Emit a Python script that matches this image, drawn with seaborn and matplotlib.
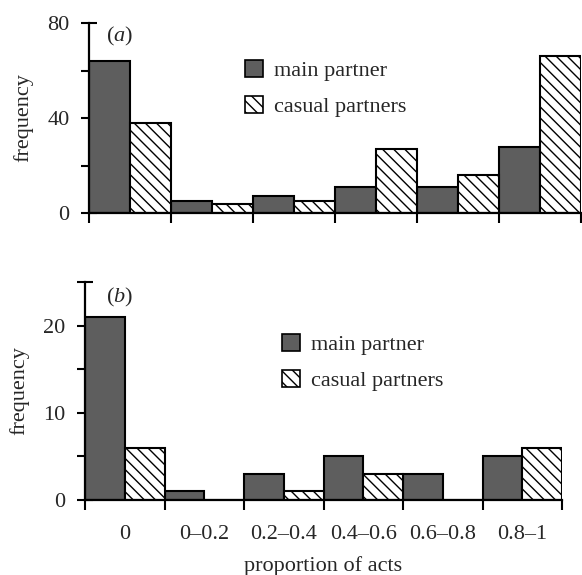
import matplotlib
matplotlib.use("Agg")
import matplotlib.pyplot as plt
import seaborn as sns
import pandas as pd
from matplotlib.patches import Patch

categories = ["0", "0\u20130.2", "0.2\u20130.4", "0.4\u20130.6", "0.6\u20130.8", "0.8\u20131"]
series = ["main partner", "casual partners"]
a_main = [64, 5, 7, 11, 11, 28]
a_casual = [38, 4, 5, 27, 16, 66]
b_main = [21, 1, 3, 5, 3, 5]
b_casual = [6, 0, 1, 3, 0, 6]

sns.set_theme(style="white")
plt.rcParams['font.family'] = ['Liberation Serif', 'DejaVu Serif']
plt.rcParams['mathtext.fontset'] = 'custom'
plt.rcParams['mathtext.rm'] = 'Liberation Serif'
plt.rcParams['mathtext.it'] = 'Liberation Serif:italic'
plt.rcParams['hatch.linewidth'] = 1.0

FS = 16
MAIN_COL = "#5e5e5e"
HATCH = "\\\\\\"


def make_df(main, casual):
    rows = []
    for c, m, k in zip(categories, main, casual):
        rows.append({"proportion": c, "partner": series[0], "frequency": m})
        rows.append({"proportion": c, "partner": series[1], "frequency": k})
    return pd.DataFrame(rows)


fig = plt.figure(figsize=(5.82, 5.75), dpi=100)
ax1 = fig.add_axes([89/582, 1-213/575, 492/582, 190/575])
ax2 = fig.add_axes([85/582, 1-500/575, 477/582, 218/575])


def draw(ax, main, casual, ymax, major, minor, show_xlabels, leg_anchor, tag, tag_y):
    df = make_df(main, casual)
    sns.barplot(data=df, x="proportion", y="frequency", hue="partner",
                order=categories, hue_order=series,
                palette=[MAIN_COL, "white"], width=1.0, gap=0,
                edgecolor="black", linewidth=1.5, saturation=1, ax=ax,
                legend=False)
    n = len(categories)
    for i, p in enumerate(ax.patches):
        if i >= n:
            p.set_hatch(HATCH)
    ax.set_xlim(-0.5, n - 0.5)
    ax.set_ylim(0, ymax)
    for s in ["top", "right"]:
        ax.spines[s].set_visible(False)
    for s in ["left", "bottom"]:
        ax.spines[s].set_linewidth(1.6)
        ax.spines[s].set_color("black")
    ax.set_yticks(major)
    ax.set_yticks(minor, minor=True)
    ax.tick_params(axis="y", which="both", direction="inout", length=12,
                   width=1.5, color="black", pad=8, labelsize=FS, left=True)
    ax.set_xticks([i - 0.5 for i in range(n + 1)])
    ax.set_xticklabels([])
    ax.set_xticks(range(n), minor=True)
    if show_xlabels:
        ax.set_xticklabels(categories, minor=True)
    ax.tick_params(axis="x", which="major", direction="out", length=7,
                   width=1.5, color="black", bottom=True)
    ax.tick_params(axis="x", which="minor", length=0, pad=18, labelsize=FS)
    ax.set_ylabel("frequency", fontsize=FS, labelpad=10)
    ax.set_xlabel("proportion of acts" if show_xlabels else "", fontsize=FS,
                  labelpad=9)
    handles = [Patch(facecolor=MAIN_COL, edgecolor="black", linewidth=1.2),
               Patch(facecolor="white", edgecolor="black", linewidth=1.2, hatch=HATCH)]
    ax.legend(handles, series, loc="upper left", bbox_to_anchor=leg_anchor,
              bbox_transform=fig.transFigure, frameon=False, fontsize=FS,
              borderpad=0, borderaxespad=0, handlelength=0.8, handleheight=0.8,
              handletextpad=0.5, labelspacing=0.65)
    fig.text(106/582, tag_y, tag, fontsize=FS, ha="left", va="center")


draw(ax1, a_main, a_casual, 80, [0, 40, 80], [20, 60], False,
     (245/582, 1-60/575), r"($\mathit{a}$)", 1-36/575)
draw(ax2, b_main, b_casual, 25, [0, 10, 20], [5, 15, 25], True,
     (282/582, 1-334/575), r"($\mathit{b}$)", 1-297/575)

fig.savefig("out.png", dpi=100)
